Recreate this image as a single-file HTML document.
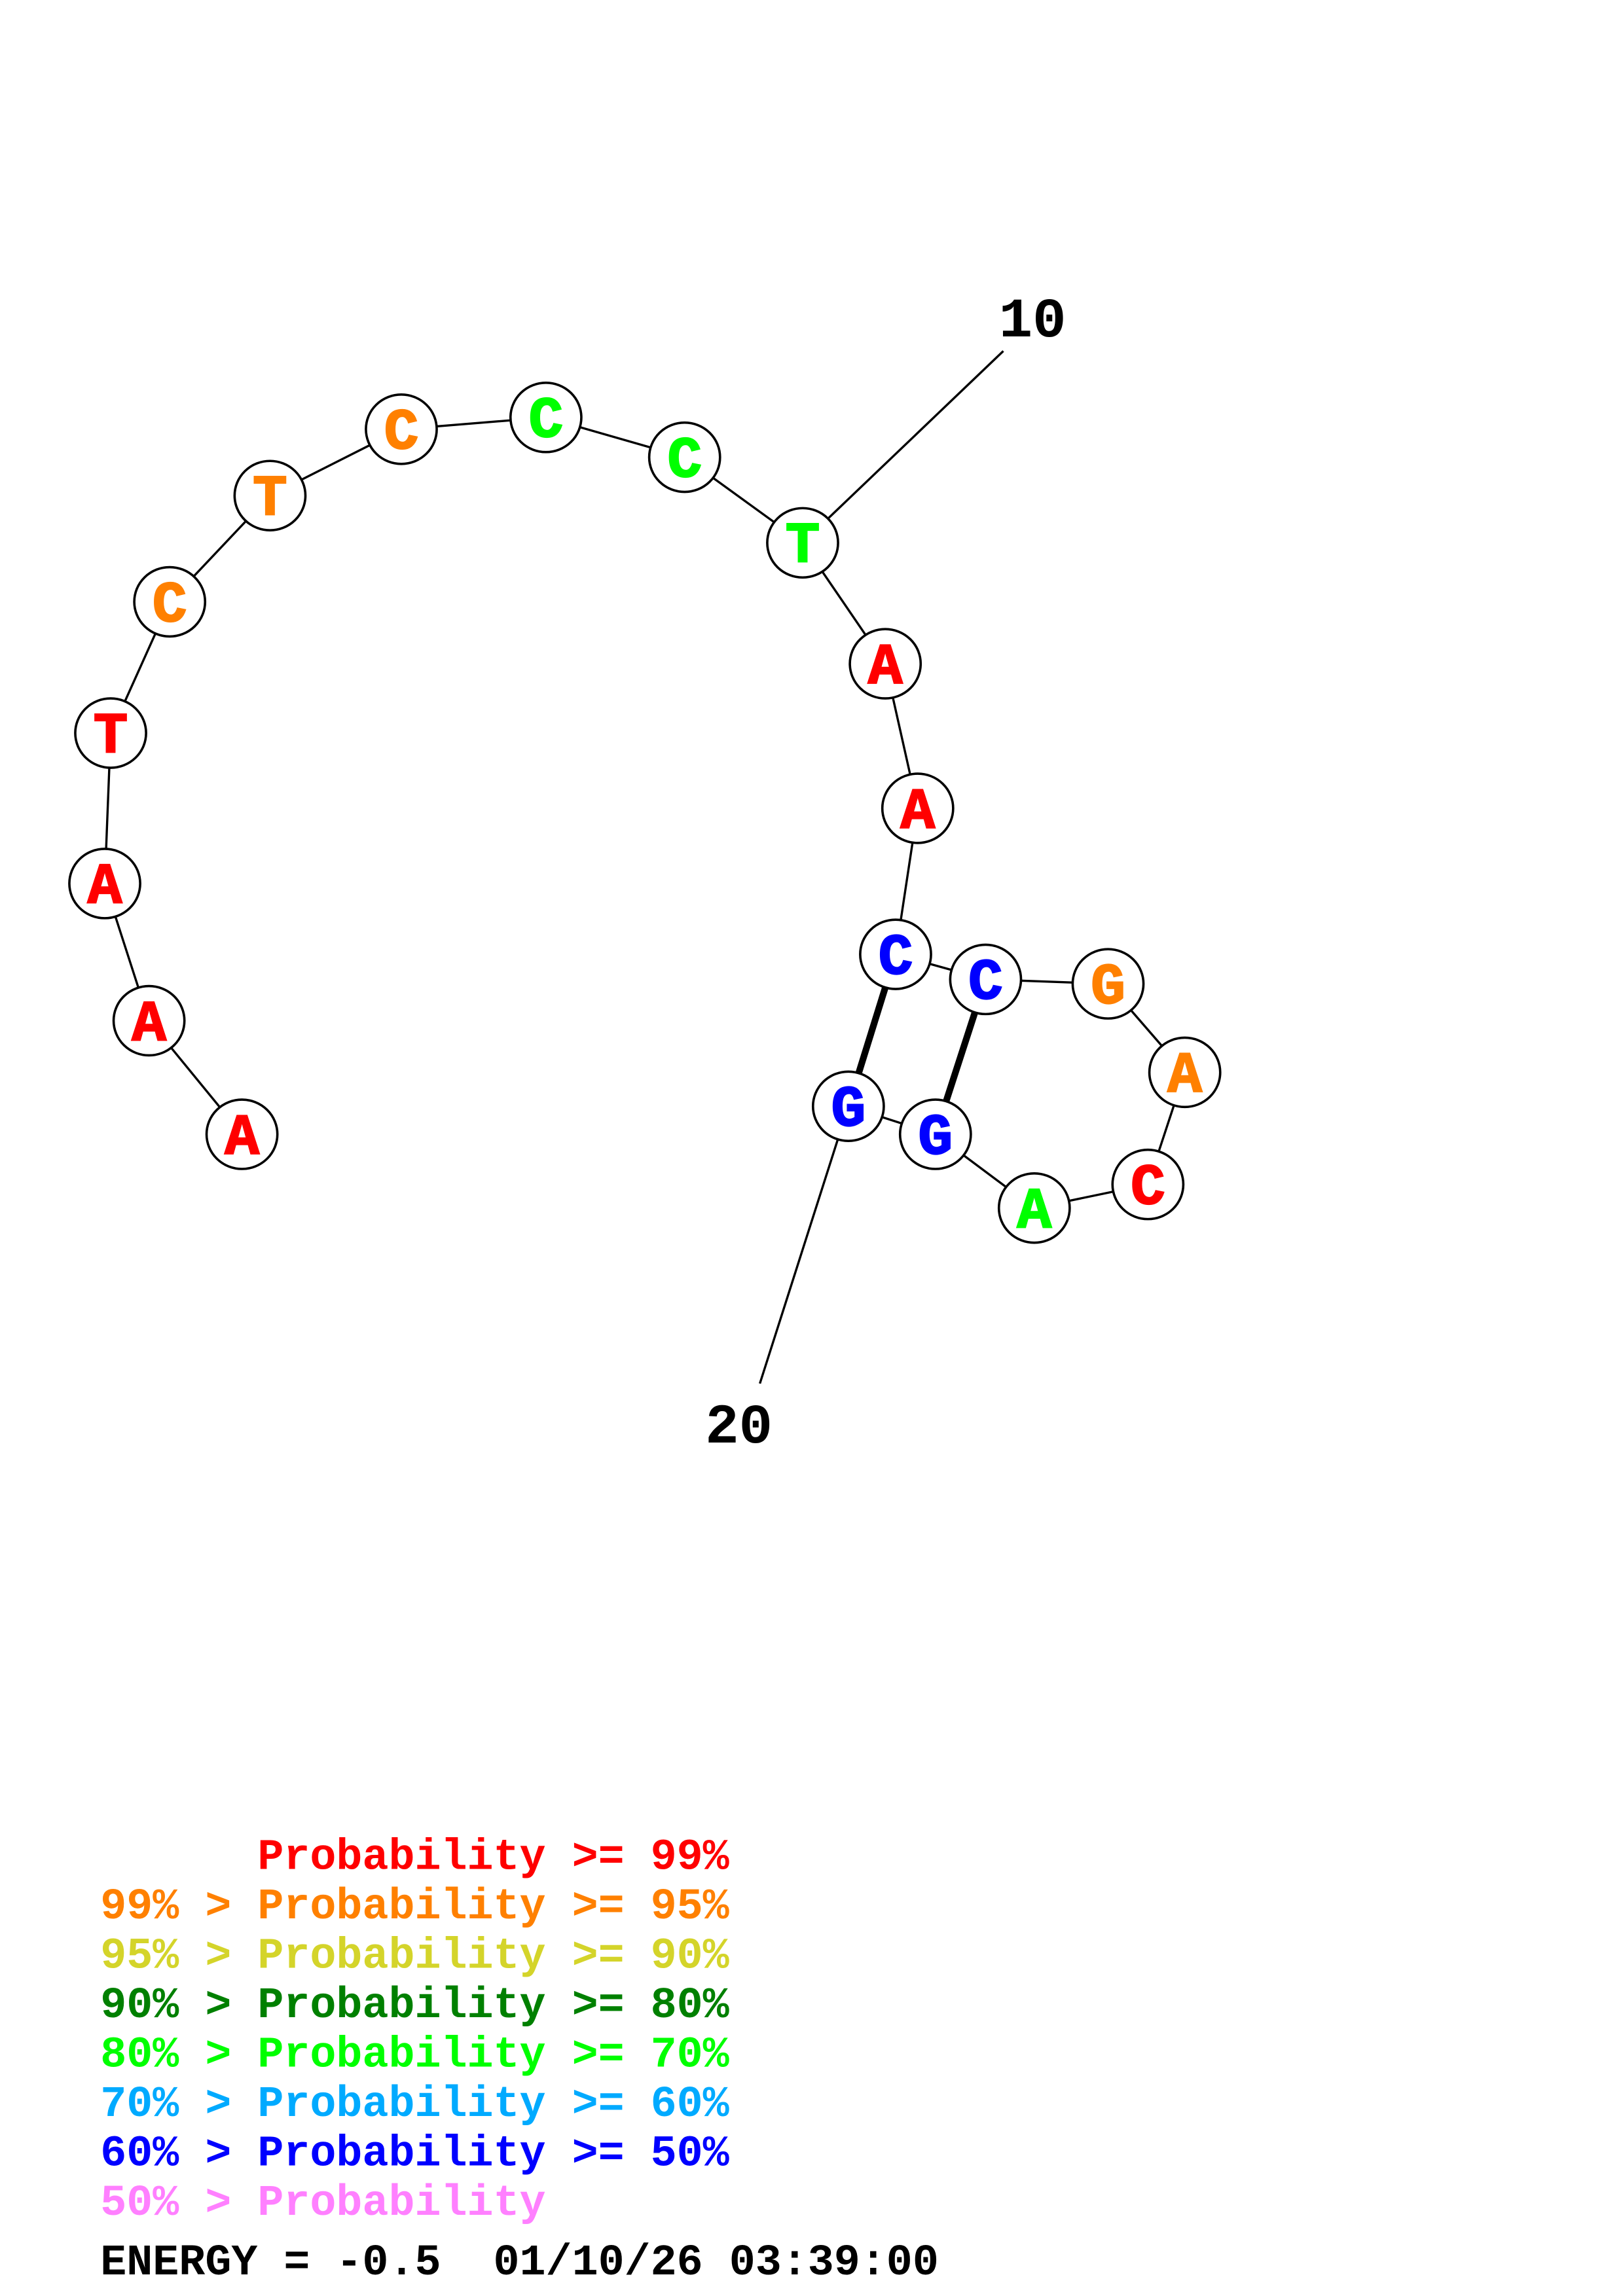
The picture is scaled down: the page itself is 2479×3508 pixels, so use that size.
<!DOCTYPE html>
<html><head><meta charset="utf-8"><style>html,body{margin:0;padding:0;background:#fff}svg{display:block}.pre{white-space:pre}</style></head>
<body>
<svg width="2479" height="3508" viewBox="0 0 1100 1556.6" xmlns="http://www.w3.org/2000/svg">
<rect width="1100" height="1556.6" fill="#fff"/>
<g stroke="#000" stroke-width="1.5" fill="none">
<polyline points="164,769 101,692 71,599 75,497 115,408 183,336 272,291 370,283 464,310 544,368 600,450 622,548 607,647 668,664 751,667 803,727 778,803 701,819 634,769 575,750"/>
<line x1="544" y1="368" x2="680" y2="238"/>
<line x1="575" y1="750" x2="515" y2="938"/>
</g>
<g stroke="#000" stroke-width="4.5">
<line x1="607" y1="647" x2="575" y2="750"/>
<line x1="668" y1="664" x2="634" y2="769"/>
</g>
<g stroke="#000" stroke-width="1.6" fill="#fff">
<ellipse cx="164" cy="769" rx="24" ry="23.5"/><ellipse cx="101" cy="692" rx="24" ry="23.5"/>
<ellipse cx="71" cy="599" rx="24" ry="23.5"/><ellipse cx="75" cy="497" rx="24" ry="23.5"/>
<ellipse cx="115" cy="408" rx="24" ry="23.5"/><ellipse cx="183" cy="336" rx="24" ry="23.5"/>
<ellipse cx="272" cy="291" rx="24" ry="23.5"/><ellipse cx="370" cy="283" rx="24" ry="23.5"/>
<ellipse cx="464" cy="310" rx="24" ry="23.5"/><ellipse cx="544" cy="368" rx="24" ry="23.5"/>
<ellipse cx="600" cy="450" rx="24" ry="23.5"/><ellipse cx="622" cy="548" rx="24" ry="23.5"/>
<ellipse cx="607" cy="647" rx="24" ry="23.5"/><ellipse cx="668" cy="664" rx="24" ry="23.5"/>
<ellipse cx="751" cy="667" rx="24" ry="23.5"/><ellipse cx="803" cy="727" rx="24" ry="23.5"/>
<ellipse cx="778" cy="803" rx="24" ry="23.5"/><ellipse cx="701" cy="819" rx="24" ry="23.5"/>
<ellipse cx="634" cy="769" rx="24" ry="23.5"/><ellipse cx="575" cy="750" rx="24" ry="23.5"/>
</g>
<g font-family="Liberation Mono, monospace" font-weight="bold" font-size="39" text-anchor="middle" stroke-width="1">
<text x="164" y="782" fill="#f00" stroke="#f00">A</text><text x="101" y="705" fill="#f00" stroke="#f00">A</text>
<text x="71" y="612" fill="#f00" stroke="#f00">A</text><text x="75" y="510" fill="#f00" stroke="#f00">T</text>
<text x="115" y="421" fill="#ff8000" stroke="#ff8000">C</text><text x="183" y="349" fill="#ff8000" stroke="#ff8000">T</text>
<text x="272" y="304" fill="#ff8000" stroke="#ff8000">C</text><text x="370" y="296" fill="#0f0" stroke="#0f0">C</text>
<text x="464" y="323" fill="#0f0" stroke="#0f0">C</text><text x="544" y="381" fill="#0f0" stroke="#0f0">T</text>
<text x="600" y="463" fill="#f00" stroke="#f00">A</text><text x="622" y="561" fill="#f00" stroke="#f00">A</text>
<text x="607" y="660" fill="#00f" stroke="#00f">C</text><text x="668" y="677" fill="#00f" stroke="#00f">C</text>
<text x="751" y="680" fill="#ff8000" stroke="#ff8000">G</text><text x="803" y="740" fill="#ff8000" stroke="#ff8000">A</text>
<text x="778" y="816" fill="#f00" stroke="#f00">C</text><text x="701" y="832" fill="#0f0" stroke="#0f0">A</text>
<text x="634" y="782" fill="#00f" stroke="#00f">G</text><text x="575" y="763" fill="#00f" stroke="#00f">G</text>
</g>
<g font-family="Liberation Mono, monospace" font-weight="bold" font-size="38" fill="#000">
<text x="677" y="228">10</text>
<text x="478" y="978">20</text>
</g>
<g font-family="Liberation Mono, monospace" font-weight="bold" font-size="29.6" class="pre">
<text x="68" y="1267" fill="#f00" class="pre">      Probability &gt;= 99%</text>
<text x="68" y="1300.5" fill="#ff8000">99% &gt; Probability &gt;= 95%</text>
<text x="68" y="1334" fill="#d4d42a">95% &gt; Probability &gt;= 90%</text>
<text x="68" y="1367.5" fill="#008000">90% &gt; Probability &gt;= 80%</text>
<text x="68" y="1401" fill="#0f0">80% &gt; Probability &gt;= 70%</text>
<text x="68" y="1434.5" fill="#00aaff">70% &gt; Probability &gt;= 60%</text>
<text x="68" y="1468" fill="#00f">60% &gt; Probability &gt;= 50%</text>
<text x="68" y="1501.5" fill="#ff80ff">50% &gt; Probability</text>
<text x="68" y="1542" fill="#000" class="pre">ENERGY = -0.5  01/10/26 03:39:00</text>
</g>
</svg>
</body></html>
